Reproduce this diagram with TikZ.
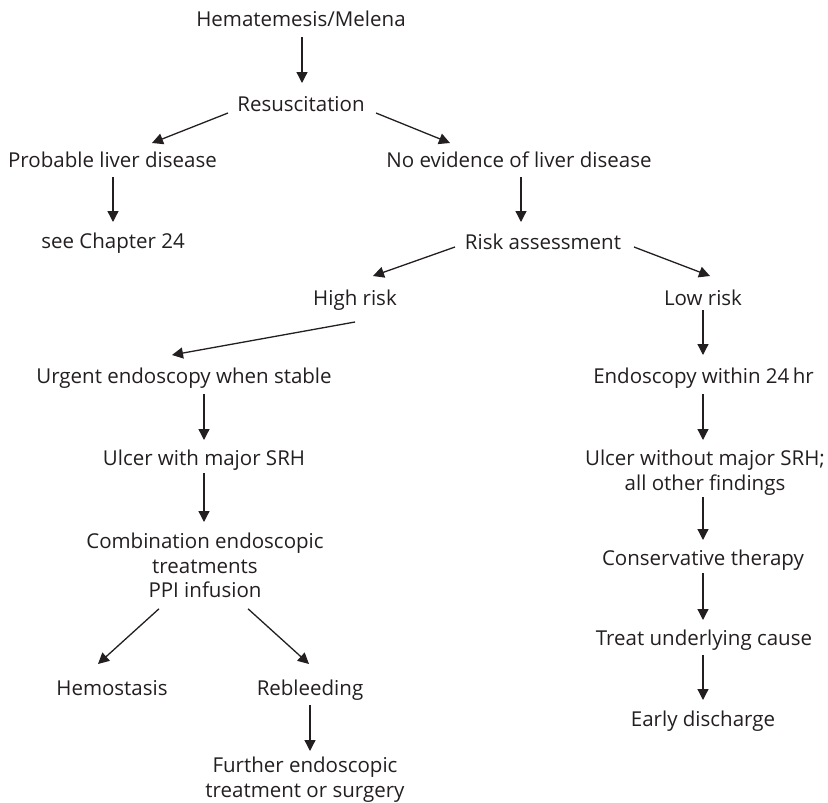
\documentclass[tikz,border=0pt]{standalone}
\usepackage{fontspec}
\setmainfont{Open Sans}
\usetikzlibrary{arrows.meta,calc}
\definecolor{ink}{HTML}{231F20}
\begin{document}
\begin{tikzpicture}[x=1pt,y=-1pt,
  lbl/.style={inner sep=0pt,outer sep=0pt,text=ink,font=\fontsize{20.5}{24.5}\selectfont},
  one/.style={lbl,anchor=base},
  many/.style={lbl,anchor=north,align=center},
  arr/.style={draw=ink,line width=1.3pt,-{Triangle[length=11pt,width=11pt]}}]
\useasboundingbox (0,0) rectangle (828,803);

% ---- nodes (single lines placed by baseline) ----
\node[one] (hem) at (301,26)  {Hematemesis/Melena};
\node[one] (res) at (301,111) {Resuscitation};
\node[one] (pld) at (112.5,167) {Probable liver disease};
\node[one] (ne)  at (519,167) {No evidence of liver disease};
\node[one] (see) at (113,248) {see Chapter 24};
\node[one] (ra)  at (543,249) {Risk assessment};
\node[one] (hr)  at (355,305) {High risk};
\node[one] (lr)  at (703,305) {Low risk};
\node[one] (ur)  at (184,383) {Urgent endoscopy when stable};
\node[one] (ed)  at (703.5,383) {Endoscopy within 24\,hr};
\node[one] (ul)  at (204,465) {Ulcer with major SRH};
\node[many] (uw) at (705,450) {Ulcer without major SRH;\\all other findings};
\node[many] (comb) at (205,533) {Combination endoscopic\\treatments\\PPI infusion};
\node[one] (cs)  at (703,565) {Conservative therapy};
\node[one] (tu)  at (704,645) {Treat underlying cause};
\node[one] (hs)  at (112,695) {Hemostasis};
\node[one] (rb)  at (310,695) {Rebleeding};
\node[one] (ea)  at (703,726) {Early discharge};
\node[many] (fu) at (305,757) {Further endoscopic\\treatment or surgery};

% ---- connectors ----
\draw[arr] ($(hem.base)+(1,11)$) -- ($(res.base)+(1,-28)$);
\draw[arr] ($(res.base)+(-73,2)$) -- ($(pld.base)+(39.5,-24)$);
\draw[arr] ($(res.base)+(75,2)$) -- ($(ne.base)+(-69,-24)$);
\draw[arr] ($(pld.base)+(0.5,10)$) -- ($(see.base)+(0,-26)$);
\draw[arr] ($(ne.base)+(2,10)$) -- ($(ra.base)+(-22,-27)$);
\draw[arr] ($(ra.base)+(-88,-2)$) -- ($(hr.base)+(18,-29)$);
\draw[arr] ($(ra.base)+(91,-2)$) -- ($(lr.base)+(7,-29)$);
\draw[arr] ($(hr.base)+(0,17)$) -- ($(ur.base)+(-12,-28)$);
\draw[arr] ($(lr.base)+(0,5)$) -- ($(ed.base)+(-0.5,-28)$);
\draw[arr] ($(ur.base)+(20,11)$) -- ($(ul.base)+(0,-25)$);
\draw[arr] ($(ed.base)+(-0.5,11)$) -- ($(uw.north)+(-2,-10)$);
\draw[arr] ($(ul.base)+(0,8)$) -- ($(comb.north)+(-1,-11)$);
\draw[arr] ($(uw.south)+(-2,2)$) -- ($(cs.base)+(0,-25)$);
\draw[arr] ($(cs.base)+(0,8)$) -- ($(tu.base)+(-1,-25)$);
\draw[arr] ($(tu.base)+(-1,10)$) -- ($(ea.base)+(0,-26)$);
\draw[arr] ($(comb.south)+(-46,11)$) -- ($(hs.base)+(-14,-31)$);
\draw[arr] ($(comb.south)+(43,11)$) -- ($(rb.base)+(-1,-31)$);
\draw[arr] ($(rb.base)+(0,10)$) -- ($(fu.north)+(5,-6)$);
\end{tikzpicture}
\end{document}
